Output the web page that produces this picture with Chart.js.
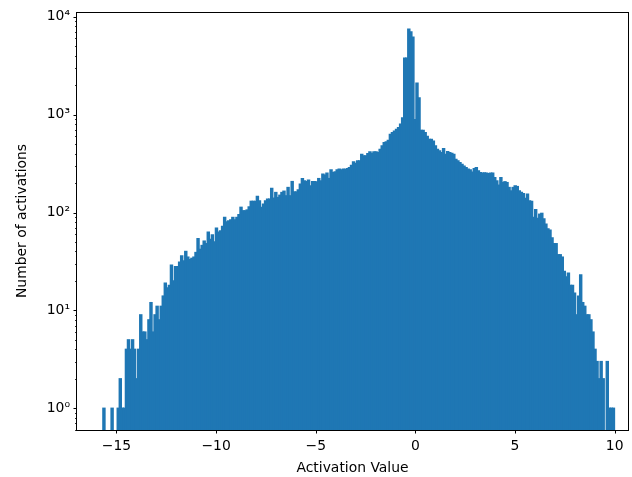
<!DOCTYPE html>
<html>
<head>
<meta charset="utf-8">
<script src="https://cdn.jsdelivr.net/npm/chart.js@4.4.1/dist/chart.umd.min.js"></script>
<style>
  html, body { margin: 0; padding: 0; background: #ffffff; }
  canvas { display: block; }
</style>
</head>
<body>
<canvas id="c" width="632" height="477" style="width:632px;height:477px"></canvas>
<script>
// ---- Data (250 bins) ----
const binStart = -15.68;
const binEnd = 9.99;
const counts = [
  1, 0, 0, 0, 1, 0, 0, 1, 2, 1,
  1, 4, 5, 4, 5, 4, 2, 4, 9, 6,
  6, 5, 8, 12, 6, 9, 11, 8, 11, 14,
  19, 17, 18, 29, 20, 28, 28, 31, 36, 32,
  40, 35, 33, 34, 35, 39, 54, 42, 46, 51,
  48, 63, 53, 59, 50, 69, 63, 65, 72, 89,
  80, 82, 84, 89, 84, 89, 95, 113, 104, 104,
  106, 114, 130, 130, 130, 146, 131, 113, 122, 131,
  137, 137, 176, 140, 160, 142, 150, 160, 165, 148,
  180, 148, 207, 162, 162, 170, 195, 222, 210, 207,
  214, 187, 207, 207, 205, 222, 210, 246, 240, 252,
  222, 272, 256, 260, 272, 277, 272, 277, 275, 281,
  287, 303, 328, 318, 336, 336, 393, 378, 378, 400,
  415, 402, 415, 415, 408, 442, 478, 517, 525, 545,
  628, 653, 679, 705, 734, 800, 928, 3785, 3785, 7460,
  7000, 6200, 890, 2100, 1480, 690, 690, 653, 600, 558,
  558, 537, 478, 442, 425, 408, 449, 393, 418, 408,
  402, 393, 349, 336, 323, 310, 298, 287, 277, 272,
  259, 281, 287, 266, 255, 252, 254, 252, 250, 253,
  252, 227, 210, 190, 227, 202, 206, 202, 180, 166,
  180, 187, 184, 166, 160, 156, 139, 154, 131, 130,
  89, 107, 87, 96, 98, 86, 76, 68, 66, 55,
  48, 48, 37, 37, 35, 25, 22, 24, 18, 18,
  15, 9, 14, 23, 12, 11, 9, 9, 8, 6,
  4, 3, 2, 3, 2, 0, 3, 1, 1, 1
];
const xTicks = [-15, -10, -5, 0, 5, 10];
const yTicks = [1, 10, 100, 1000, 10000];
const yTickLabels = ['10\u2070', '10\u00B9', '10\u00B2', '10\u00B3', '10\u2074'];
const xTitle = 'Activation Value';
const yTitle = 'Number of activations';

// bin centres derived from the histogram range
const binWidth = (binEnd - binStart) / counts.length;
const binCenters = counts.map((_, i) => binStart + (i + 0.5) * binWidth);

const FONT = 'DejaVu Sans';
const FS = 13.9;
Chart.defaults.color = '#000000';
Chart.defaults.font.family = FONT;
Chart.defaults.font.size = FS;

const framePlugin = {
  id: 'frame',
  afterDraw(chart) {
    const {ctx, chartArea: a, scales} = chart;
    const L = Math.round(a.left), R = Math.round(a.right), T = Math.round(a.top), B = Math.round(a.bottom);
    ctx.save();
    ctx.strokeStyle = '#000000';
    const y = scales.y, x = scales.x;
    // major y ticks
    ctx.lineWidth = 1;
    yTicks.forEach(v => {
      const py = Math.round(y.getPixelForValue(v)) + 0.5;
      ctx.beginPath(); ctx.moveTo(L, py); ctx.lineTo(L - 3.5, py); ctx.stroke();
    });
    // minor log ticks on y axis
    ctx.lineWidth = 0.8;
    for (let k = -1; k <= 4; k++) {
      for (let m = 2; m <= 9; m++) {
        const v = m * Math.pow(10, k);
        if (v < y.min || v > y.max) continue;
        const py = Math.round(y.getPixelForValue(v)) + 0.5;
        ctx.beginPath(); ctx.moveTo(L, py); ctx.lineTo(L - 2, py); ctx.stroke();
      }
    }
    // x ticks
    ctx.lineWidth = 1;
    xTicks.forEach(v => {
      const px = Math.round(x.getPixelForValue(v)) + 0.5;
      ctx.beginPath(); ctx.moveTo(px, B); ctx.lineTo(px, B + 3.5); ctx.stroke();
    });
    // frame (all four spines)
    ctx.strokeRect(L - 0.5, T + 0.5, R - L + 1, B - T);
    ctx.restore();
  }
};

new Chart(document.getElementById('c'), {
  type: 'bar',
  data: {
    datasets: [{
      data: binCenters.map((x, i) => ({x: x, y: counts[i] > 0 ? counts[i] : null})),
      backgroundColor: '#1f77b4',
      borderWidth: 0,
      barPercentage: 1,
      categoryPercentage: 1,
      inflateAmount: 0.7
    }]
  },
  options: {
    responsive: false,
    animation: false,
    events: [],
    layout: { padding: { top: 12, right: 4, left: 0, bottom: 0 } },
    plugins: { legend: { display: false }, tooltip: { enabled: false } },
    scales: {
      x: {
        type: 'linear',
        min: -16.98,
        max: 10.67,
        offset: false,
        border: { display: false },
        grid: { display: true, drawOnChartArea: false, tickLength: 3.5, tickColor: 'rgba(0,0,0,0)', lineWidth: 0 },
        ticks: {
          autoSkip: false, maxRotation: 0, padding: 4.5, color: '#000000',
          font: { family: FONT, size: FS },
          callback: (v) => (v < 0 ? '\u2212' + Math.abs(v) : String(v))
        },
        afterBuildTicks: (s) => { s.ticks = xTicks.map(v => ({value: v})); },
        afterFit: (s) => { s.height = 47; },
        title: { display: true, text: xTitle, color: '#000000', font: { family: FONT, size: FS }, padding: { top: 0, bottom: 0 } }
      },
      y: {
        type: 'logarithmic',
        min: 0.626,
        max: 11190,
        border: { display: false },
        grid: { display: true, drawOnChartArea: false, tickLength: 3.5, tickColor: 'rgba(0,0,0,0)', lineWidth: 0 },
        ticks: {
          autoSkip: false, padding: 3.5, color: '#000000',
          font: { family: FONT, size: FS },
          callback: (v) => { const i = yTicks.indexOf(v); return i >= 0 ? yTickLabels[i] : ''; }
        },
        afterBuildTicks: (s) => { s.ticks = yTicks.map(v => ({value: v, major: true})); },
        afterFit: (s) => { s.width = 77; },
        title: { display: true, text: yTitle, color: '#000000', font: { family: FONT, size: FS }, padding: { top: 14, bottom: 0 } }
      }
    }
  },
  plugins: [framePlugin]
});
</script>
</body>
</html>
